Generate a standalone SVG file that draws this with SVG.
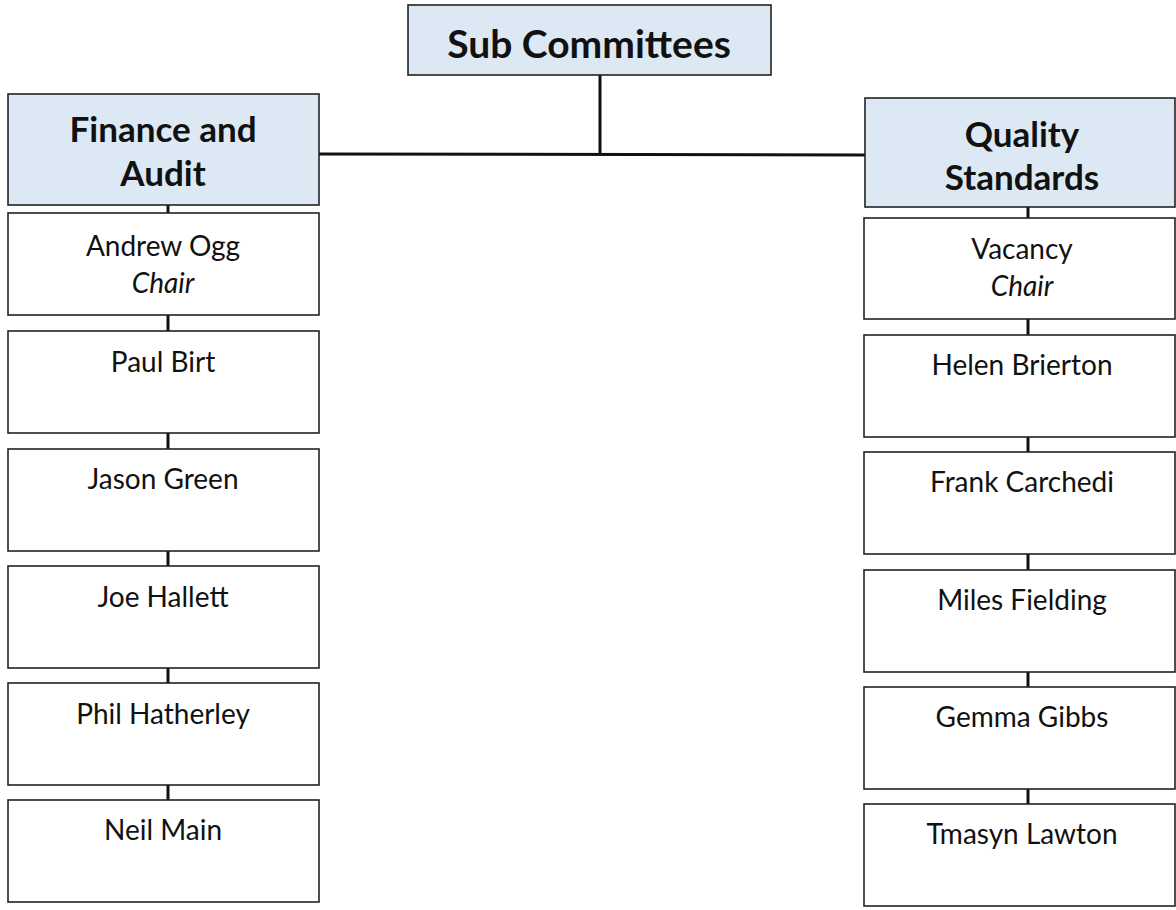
<svg xmlns="http://www.w3.org/2000/svg" width="1176" height="910" viewBox="0 0 1176 910">
<style>
.hdr{fill:#dde8f5;stroke:#222;stroke-width:1.6}
.box{fill:#fff;stroke:#222;stroke-width:1.6}
.ht{font-family:Lato,"Open Sans",sans-serif;font-weight:bold;font-size:35px;fill:#111;text-anchor:middle}
.tt{font-family:Lato,"Open Sans",sans-serif;font-weight:bold;font-size:39px;fill:#111;text-anchor:middle}
.nt{font-family:Lato,"Open Sans",sans-serif;font-size:28px;fill:#111;text-anchor:middle}
.it{font-style:italic}
.ln{stroke:#111;stroke-width:3;fill:none}
</style>
<rect width="1176" height="910" fill="#fff"/>
<g id="connectors">
<line class="ln" x1="600" y1="75" x2="600" y2="154"/>
<line class="ln" x1="319" y1="154" x2="865" y2="155"/>
<line class="ln" x1="168" y1="205" x2="168" y2="213"/>
<line class="ln" x1="168" y1="315" x2="168" y2="331"/>
<line class="ln" x1="168" y1="433" x2="168" y2="449"/>
<line class="ln" x1="168" y1="551" x2="168" y2="566"/>
<line class="ln" x1="168" y1="668" x2="168" y2="683"/>
<line class="ln" x1="168" y1="785" x2="168" y2="800"/>
<line class="ln" x1="1028" y1="207" x2="1028" y2="218"/>
<line class="ln" x1="1028" y1="319" x2="1028" y2="335"/>
<line class="ln" x1="1028" y1="437" x2="1028" y2="452"/>
<line class="ln" x1="1028" y1="554" x2="1028" y2="570"/>
<line class="ln" x1="1028" y1="672" x2="1028" y2="687"/>
<line class="ln" x1="1028" y1="789" x2="1028" y2="804"/>
</g>
<g id="sub-committees"><rect class="hdr" x="408" y="5" width="363" height="70"/><text class="tt" x="589" y="58">Sub Committees</text></g>
<g id="finance-audit"><rect class="hdr" x="8" y="94" width="311" height="111"/><text class="ht" x="163" y="142">Finance and</text><text class="ht" x="163" y="186">Audit</text></g>
<g id="andrew-ogg"><rect class="box" x="8" y="213" width="311" height="102"/><text class="nt" x="163" y="256">Andrew Ogg</text><text class="nt it" x="163" y="293">Chair</text></g>
<g id="paul-birt"><rect class="box" x="8" y="331" width="311" height="102"/><text class="nt" x="163" y="372">Paul Birt</text></g>
<g id="jason-green"><rect class="box" x="8" y="449" width="311" height="102"/><text class="nt" x="163" y="489">Jason Green</text></g>
<g id="joe-hallett"><rect class="box" x="8" y="566" width="311" height="102"/><text class="nt" x="163" y="607">Joe Hallett</text></g>
<g id="phil-hatherley"><rect class="box" x="8" y="683" width="311" height="102"/><text class="nt" x="163" y="724">Phil Hatherley</text></g>
<g id="neil-main"><rect class="box" x="8" y="800" width="311" height="102"/><text class="nt" x="163" y="840">Neil Main</text></g>
<g id="quality-standards"><rect class="hdr" x="865" y="98" width="310" height="109"/><text class="ht" x="1022" y="147">Quality</text><text class="ht" x="1022" y="190">Standards</text></g>
<g id="vacancy"><rect class="box" x="864" y="218" width="311" height="101"/><text class="nt" x="1022" y="259">Vacancy</text><text class="nt it" x="1022" y="296">Chair</text></g>
<g id="helen-brierton"><rect class="box" x="864" y="335" width="311" height="102"/><text class="nt" x="1022" y="375">Helen Brierton</text></g>
<g id="frank-carchedi"><rect class="box" x="864" y="452" width="311" height="102"/><text class="nt" x="1022" y="492">Frank Carchedi</text></g>
<g id="miles-fielding"><rect class="box" x="864" y="570" width="311" height="102"/><text class="nt" x="1022" y="610">Miles Fielding</text></g>
<g id="gemma-gibbs"><rect class="box" x="864" y="687" width="311" height="102"/><text class="nt" x="1022" y="727">Gemma Gibbs</text></g>
<g id="tmasyn-lawton"><rect class="box" x="864" y="804" width="311" height="102"/><text class="nt" x="1022" y="844">Tmasyn Lawton</text></g>
</svg>
